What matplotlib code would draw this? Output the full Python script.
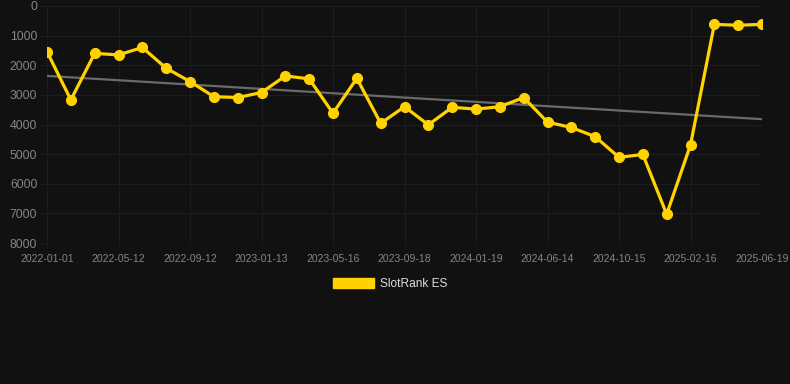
import numpy as np
import matplotlib
matplotlib.use("Agg")
import matplotlib.pyplot as plt
from matplotlib.patches import Patch

plt.rcParams["font.family"] = ["Liberation Sans", "DejaVu Sans"]

# SlotRank ES ranking over time (lower rank value = better, axis inverted)
ranks = [1540, 3170, 1600, 1650, 1400, 2100, 2550, 3060, 3090, 2920,
         2360, 2460, 3620, 2440, 3960, 3400, 4010, 3420, 3480, 3400,
         3090, 3920, 4100, 4410, 5110, 5010, 7030, 4690, 620, 650, 620]
tick_labels = ["2022-01-01", "2022-05-12", "2022-09-12", "2023-01-13",
               "2023-05-16", "2023-09-18", "2024-01-19", "2024-06-14",
               "2024-10-15", "2025-02-16", "2025-06-19"]
trend_ends = [2360, 3820]

bg = "#111111"
grid = "#1d1d1d"
yellow = "#ffd200"

x = np.arange(len(ranks))

fig = plt.figure(figsize=(7.9, 3.84), dpi=100, facecolor=bg)
ax = fig.add_axes([47/790, 1-243/384, (762-47)/790, (243-6)/384])
ax.set_facecolor(bg)

ax.plot([x[0], x[-1]], trend_ends, color="#6a6a6a", lw=1.6, zorder=2)
ax.plot(x, ranks, color=yellow, lw=2.3, marker="o", ms=7, zorder=3)

ax.set_xlim(x[0], x[-1])
ax.set_ylim(8000, 0)
ax.set_yticks(np.arange(0, 8001, 1000))
ax.set_xticks(x[::3])
ax.set_xticklabels(tick_labels)

ax.grid(True, color=grid, lw=0.8)
for s in ax.spines.values():
    s.set_visible(False)
ax.tick_params(axis="y", colors=grid, labelcolor="#858585", labelsize=8.7,
               length=5, width=0.8, pad=2)
ax.tick_params(axis="x", colors=grid, labelcolor="#858585", labelsize=7.5,
               length=2, width=0.8, pad=6)
ax.axhline(8000, color="#2a2a2a", lw=0.8)

fig.legend(handles=[Patch(facecolor=yellow, edgecolor=yellow, label="SlotRank ES")],
           loc="center", bbox_to_anchor=(390/790, 1-284/384), frameon=False,
           handlelength=3.4, handleheight=1.0, handletextpad=0.5,
           labelcolor="#dddddd", prop={"size": 8.6})

fig.savefig("out.png", dpi=100, facecolor=bg)
